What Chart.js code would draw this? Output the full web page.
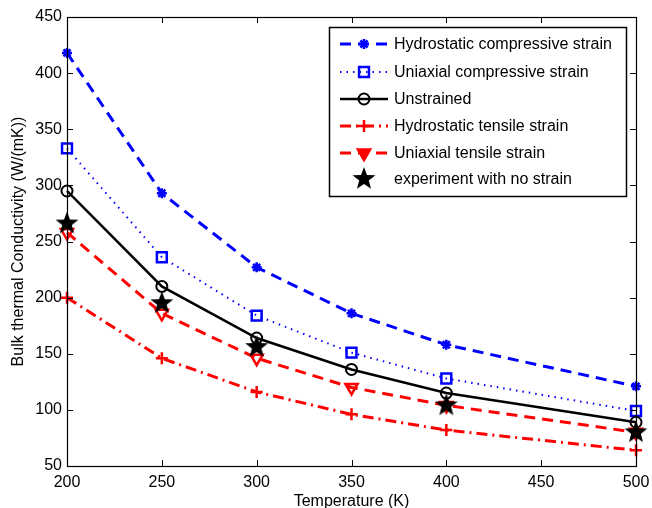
<!DOCTYPE html>
<html>
<head>
<meta charset="utf-8">
<script src="https://cdn.jsdelivr.net/npm/chart.js@4"></script>
<style>
    html, body { margin: 0; padding: 0; background: #fff; }
    #wrap { width: 652px; height: 508px; }
</style>
</head>
<body>
<div id="wrap"><canvas id="chart" width="652" height="508"></canvas></div>
<script>
const temperatures = [200, 250, 300, 350, 400, 500];
const hydroCompressive = [418, 293, 227, 186, 158, 121];
const uniCompressive = [333, 236, 184, 151, 128, 99];
const unstrained = [295, 210, 164, 136, 115, 89];
const hydroTensile = [200, 146, 116, 96, 82, 64];
const uniTensile = [258, 186, 146, 120, 104, 80];
const experiment = [266, 195, 156, null, 104, 80];

const xTicks = [200, 250, 300, 350, 400, 450, 500];
const yTicks = [50, 100, 150, 200, 250, 300, 350, 400, 450];

const FONT = 'Liberation Sans, Arial, sans-serif';

function makeStar(r) {
    var c = document.createElement('canvas');
    c.width = c.height = 2 * r + 2;
    var ctx = c.getContext('2d');
    var cx = r + 1, cy = r + 1;
    ctx.beginPath();
    for (var i = 0; i < 10; i++) {
        var rad = i % 2 === 0 ? r : r * 0.42;
        var a = -Math.PI / 2 + i * Math.PI / 5;
        var px = cx + rad * Math.cos(a), py = cy + rad * Math.sin(a);
        if (i === 0) ctx.moveTo(px, py); else ctx.lineTo(px, py);
    }
    ctx.closePath();
    ctx.fillStyle = '#000';
    ctx.fill();
    return c;
}
const starImg = makeStar(12);

function toXY(values) {
    return temperatures.map((t, i) => ({ x: t, y: values[i] }));
}

var datasets = [
    {
        label: 'Hydrostatic compressive strain',
        data: toXY(hydroCompressive),
        borderColor: '#0000ff', backgroundColor: '#0000ff',
        borderWidth: 3, borderDash: [11, 7],
        pointStyle: 'star', pointRadius: 5, pointBorderWidth: 2.5,
        order: 5
    },
    {
        label: 'Uniaxial compressive strain',
        data: toXY(uniCompressive),
        borderColor: '#0000ff', backgroundColor: 'rgba(0,0,0,0)',
        borderWidth: 2, borderDash: [1.5, 5],
        pointStyle: 'rect', pointRadius: 7, pointBorderWidth: 2.5,
        order: 4
    },
    {
        label: 'Unstrained',
        data: toXY(unstrained),
        borderColor: '#000', backgroundColor: 'rgba(0,0,0,0)',
        borderWidth: 2.5, borderDash: [],
        pointStyle: 'circle', pointRadius: 5.5, pointBorderWidth: 2,
        order: 3
    },
    {
        label: 'Hydrostatic tensile strain',
        data: toXY(hydroTensile),
        borderColor: '#ff0000', backgroundColor: '#ff0000',
        borderWidth: 3, borderDash: [11, 5, 2, 5],
        pointStyle: 'cross', pointRadius: 6, pointBorderWidth: 2.5,
        order: 2
    },
    {
        label: 'Uniaxial tensile strain',
        data: toXY(uniTensile),
        borderColor: '#ff0000', backgroundColor: 'rgba(0,0,0,0)',
        borderWidth: 3, borderDash: [11, 7],
        pointStyle: 'triangle', pointRotation: 180, pointRadius: 7, pointBorderWidth: 2.5,
        legendFill: '#ff0000',
        order: 1
    },
    {
        label: 'experiment with no strain',
        data: toXY(experiment),
        showLine: false,
        borderColor: '#000', backgroundColor: '#000',
        pointStyle: starImg, pointRadius: 12,
        order: 0
    }
];
datasets.forEach(d => { d.clip = false; d.tension = 0; });

// box round the plot with inward ticks, like the original
const boxPlugin = {
    id: 'box',
    afterDatasetsDraw(chart) {
        var ctx = chart.ctx, a = chart.chartArea;
        var xs = chart.scales.x, ys = chart.scales.y;
        ctx.save();
        ctx.strokeStyle = '#000';
        ctx.lineWidth = 1;
        ctx.beginPath();
        xTicks.forEach(v => {
            var px = Math.round(xs.getPixelForValue(v)) + 0.5;
            ctx.moveTo(px, a.bottom); ctx.lineTo(px, a.bottom - 6);
            ctx.moveTo(px, a.top); ctx.lineTo(px, a.top + 6);
        });
        yTicks.forEach(v => {
            var py = Math.round(ys.getPixelForValue(v)) + 0.5;
            ctx.moveTo(a.left, py); ctx.lineTo(a.left + 6, py);
            ctx.moveTo(a.right, py); ctx.lineTo(a.right - 6, py);
        });
        ctx.stroke();
        ctx.lineWidth = 1.2;
        ctx.strokeRect(Math.round(a.left) + 0.5, Math.round(a.top) + 0.5,
            Math.round(a.right - a.left), Math.round(a.bottom - a.top));
        ctx.restore();
    }
};

// matlab style legend: line sample + marker + text
const legendPlugin = {
    id: 'matlabLegend',
    afterDraw(chart) {
        var ctx = chart.ctx;
        var left = 329, top = 27, w = 297, h = 169;
        var rowY = [44, 72, 99, 126, 153, 179];
        ctx.save();
        ctx.fillStyle = '#fff';
        ctx.fillRect(left, top, w, h);
        ctx.strokeStyle = '#000';
        ctx.lineWidth = 1.5;
        ctx.strokeRect(left + 0.5, top + 0.5, w, h);
        chart.data.datasets.forEach((d, i) => {
            var y = rowY[i];
            if (d.showLine !== false) {
                ctx.save();
                ctx.strokeStyle = d.borderColor;
                ctx.lineWidth = d.borderWidth;
                ctx.setLineDash(d.borderDash || []);
                ctx.beginPath();
                ctx.moveTo(340, y); ctx.lineTo(388, y);
                ctx.stroke();
                ctx.restore();
            }
            ctx.save();
            ctx.strokeStyle = d.borderColor;
            ctx.fillStyle = d.legendFill || d.backgroundColor;
            ctx.lineWidth = d.pointBorderWidth || 1;
            ctx.setLineDash([]);
            Chart.helpers.drawPoint(ctx, {
                pointStyle: d.pointStyle,
                radius: d.pointRadius,
                rotation: d.pointRotation || 0,
                borderWidth: d.pointBorderWidth || 1
            }, 364, y);
            ctx.restore();
            ctx.fillStyle = '#000';
            ctx.font = '16px ' + FONT;
            ctx.textBaseline = 'middle';
            ctx.textAlign = 'left';
            ctx.fillText(d.label, 394, y + 1);
        });
        ctx.restore();
    }
};

new Chart(document.getElementById('chart').getContext('2d'), {
    type: 'line',
    data: { datasets: datasets },
    options: {
        responsive: false,
        animation: false,
        events: [],
        layout: { padding: { top: 17, right: 16, left: 0, bottom: 0 } },
        plugins: { legend: { display: false }, tooltip: { enabled: false } },
        scales: {
            x: {
                type: 'linear',
                min: 200, max: 500,
                afterBuildTicks: axis => { axis.ticks = xTicks.map(v => ({ value: v })); },
                afterFit: scale => { scale.height = 42; scale.paddingRight = 0; scale.paddingLeft = 0; },
                grid: { display: false, drawTicks: false },
                border: { display: false },
                ticks: { color: '#000', padding: 7, maxRotation: 0, font: { family: FONT, size: 16 } },
                title: {
                    display: true, text: 'Temperature (K)', color: '#000',
                    padding: { top: 0, bottom: -3 },
                    font: { family: FONT, size: 16 }
                }
            },
            y: {
                type: 'linear',
                min: 50, max: 450,
                afterBuildTicks: axis => { axis.ticks = yTicks.map(v => ({ value: v })); },
                afterFit: scale => { scale.width = 67; },
                grid: { display: false, drawTicks: false },
                border: { display: false },
                ticks: { color: '#000', padding: 5, font: { family: FONT, size: 16 } },
                title: {
                    display: true, text: 'Bulk thermal Conductivity (W/(mK))', color: '#000',
                    padding: { top: 9, bottom: 0 },
                    font: { family: FONT, size: 16 }
                }
            }
        }
    },
    plugins: [boxPlugin, legendPlugin]
});
</script>
</body>
</html>
